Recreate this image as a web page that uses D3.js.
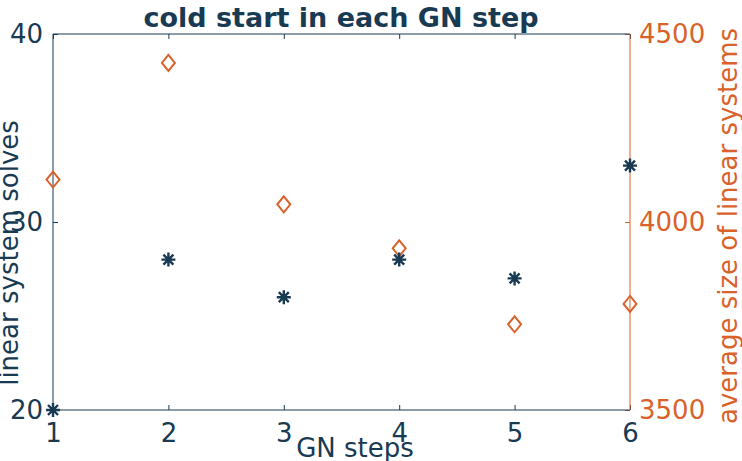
<!DOCTYPE html>
<html><head><meta charset="utf-8">
<script src="https://cdn.jsdelivr.net/npm/d3@7"></script>
<style>body{margin:0;background:#fff}svg{display:block}text{font-family:"DejaVu Sans",sans-serif}</style>
</head><body><svg id="c" width="742" height="461"></svg>
<script>
const steps = [1, 2, 3, 4, 5, 6];
const solves = [20, 28, 26, 28, 27, 33];
const avgSize = [4113, 4423, 4047, 3930, 3728, 3782];
const xTicks = [1, 2, 3, 4, 5, 6];
const leftTicks = [20, 30, 40];
const rightTicks = [3500, 4000, 4500];

const dark = "#183a52", orange = "#d9622b";
const svg = d3.select("#c");
const L = 53, R = 630, T = 34, B = 410;
const x = d3.scaleLinear().domain([1, 6]).range([L, R]);
const yL = d3.scaleLinear().domain([20, 40]).range([B, T]);
const yR = d3.scaleLinear().domain([3500, 4500]).range([B, T]);

function styleAxis(g, col) {
  g.attr("font-size", null).attr("font-family", null);
  g.selectAll(".domain").remove();
  g.selectAll("line").attr("stroke", col).attr("stroke-width", 1);
  g.selectAll("text").attr("fill", col).style("font-size", "26px").style("font-family", '"DejaVu Sans",sans-serif');
}
// bottom
svg.append("g").attr("transform", `translate(0,${B})`)
  .call(d3.axisBottom(x).tickValues(xTicks).tickSizeInner(-5).tickSizeOuter(0).tickPadding(14).tickFormat(d3.format("d")))
  .call(g => styleAxis(g, dark));
// top ticks
svg.append("g").attr("transform", `translate(0,${T})`)
  .call(d3.axisTop(x).tickValues(xTicks).tickSizeInner(-5).tickSizeOuter(0).tickFormat(""))
  .call(g => styleAxis(g, dark));
// left
svg.append("g").attr("transform", `translate(${L},0)`)
  .call(d3.axisLeft(yL).tickValues(leftTicks).tickSizeInner(-5).tickSizeOuter(0).tickPadding(10).tickFormat(d3.format("d")))
  .call(g => styleAxis(g, dark));
// right
svg.append("g").attr("transform", `translate(${R},0)`)
  .call(d3.axisRight(yR).tickValues(rightTicks).tickSizeInner(-5).tickSizeOuter(0).tickPadding(9).tickFormat(d3.format("d")))
  .call(g => styleAxis(g, orange));

// frame
svg.append("line").attr("x1", L).attr("x2", R).attr("y1", T).attr("y2", T).attr("stroke", dark);
svg.append("line").attr("x1", L).attr("x2", R).attr("y1", B).attr("y2", B).attr("stroke", dark);
svg.append("line").attr("x1", L).attr("x2", L).attr("y1", T).attr("y2", B).attr("stroke", dark);
svg.append("line").attr("x1", R).attr("x2", R).attr("y1", T).attr("y2", B).attr("stroke", orange);

// diamonds
svg.append("g").selectAll("path").data(steps).join("path")
  .attr("d", (d, i) => { const cx = x(d), cy = yR(avgSize[i]); return `M${cx},${cy-8}L${cx+6.5},${cy}L${cx},${cy+8}L${cx-6.5},${cy}Z`; })
  .attr("fill", "none").attr("stroke", orange).attr("stroke-width", 2);

// stars
svg.append("g").selectAll("path").data(steps).join("path")
  .attr("d", (d, i) => { const cx = x(d), cy = yL(solves[i]); const r = 7, q = 5;
    return `M${cx-r},${cy}L${cx+r},${cy}M${cx},${cy-r}L${cx},${cy+r}M${cx-q},${cy-q}L${cx+q},${cy+q}M${cx-q},${cy+q}L${cx+q},${cy-q}`; })
  .attr("fill", "none").attr("stroke", dark).attr("stroke-width", 2.4);

// title
svg.append("text").attr("x", 341).attr("y", 27).attr("text-anchor", "middle")
  .attr("fill", dark).style("font-size", "27px").style("font-weight", "bold").text("cold start in each GN step");
// x label
svg.append("text").attr("x", 355).attr("y", 457).attr("text-anchor", "middle")
  .attr("fill", dark).style("font-size", "26px").text("GN steps");
// left label
svg.append("text").attr("transform", "translate(18,253) rotate(-90)").attr("text-anchor", "middle")
  .attr("fill", dark).style("font-size", "26px").text("linear system solves");
// right label
svg.append("text").attr("transform", "translate(737,226) rotate(-90)").attr("text-anchor", "middle")
  .attr("fill", orange).style("font-size", "26px").text("average size of linear systems");
</script></body></html>
